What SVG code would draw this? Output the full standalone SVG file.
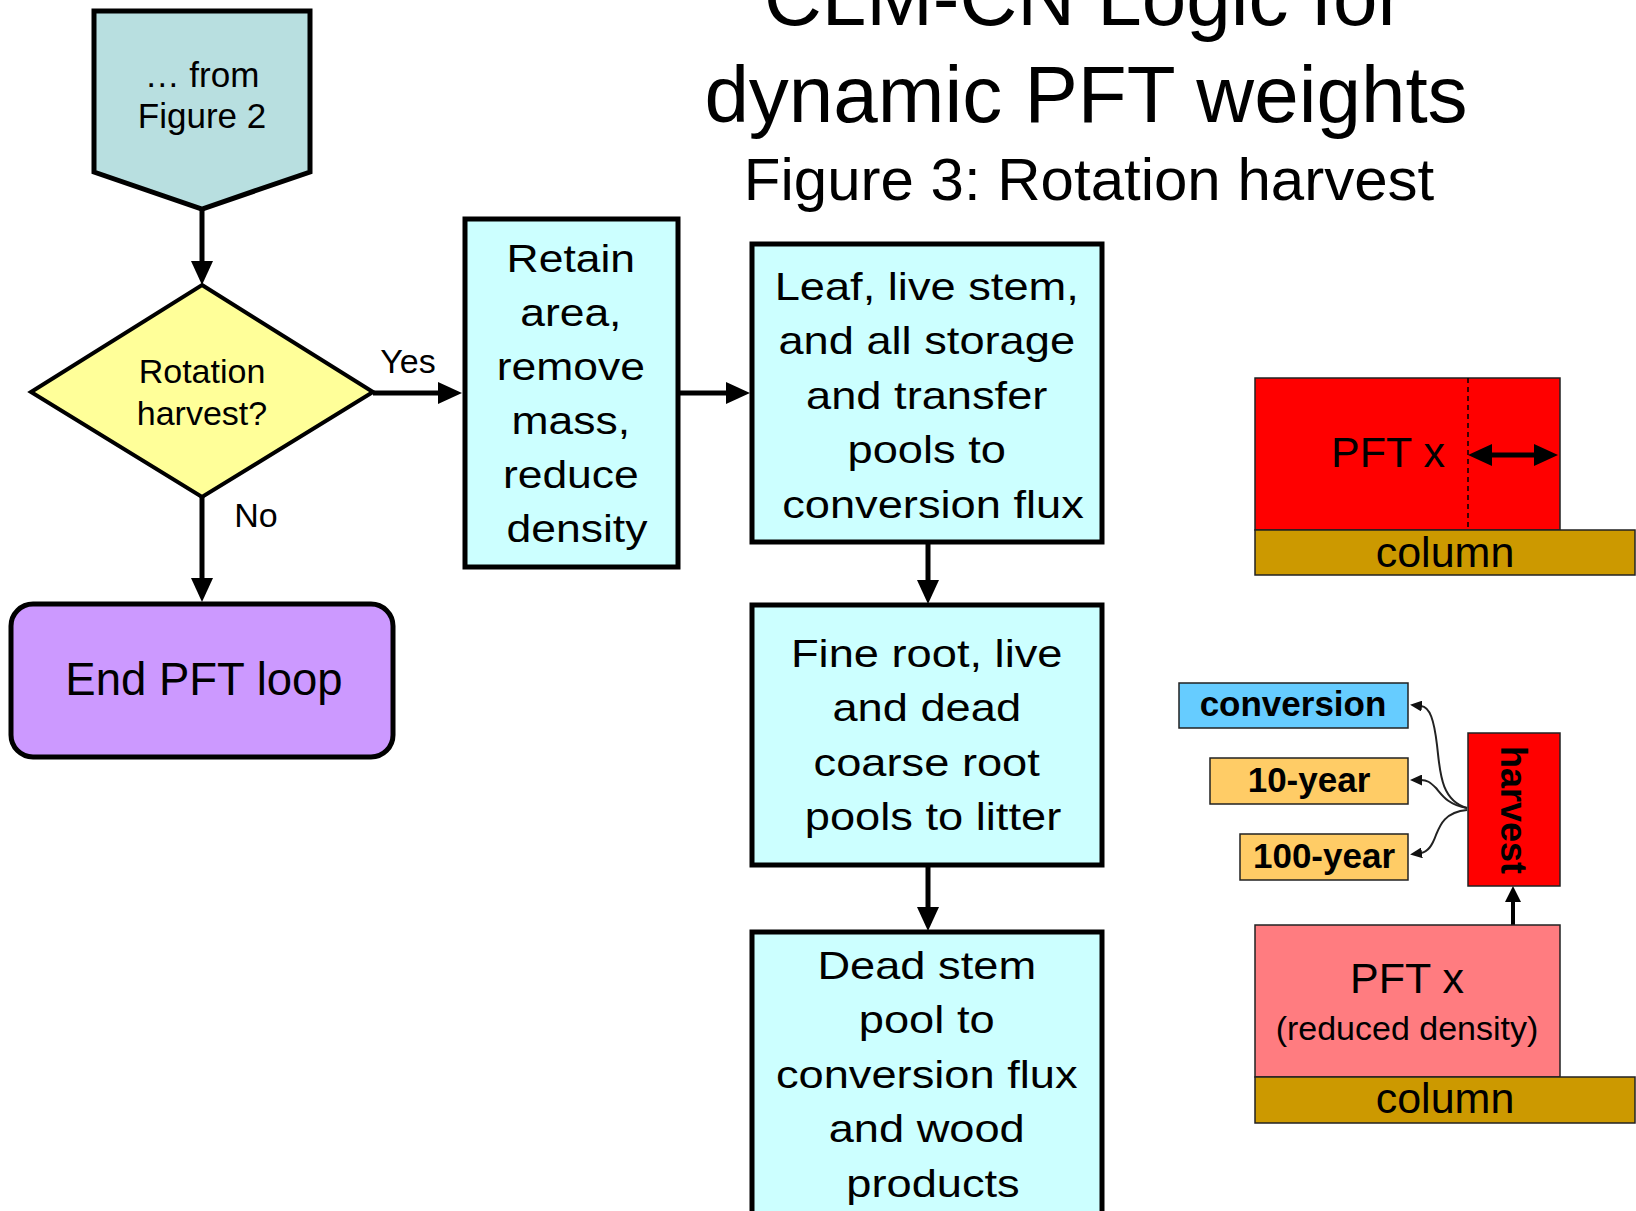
<svg xmlns="http://www.w3.org/2000/svg" width="1636" height="1211" viewBox="0 0 1636 1211">
  <defs>
    <style>
      text { font-family: "Liberation Sans", Arial, sans-serif; fill: #000; }
      .title { font-size: 80px; text-anchor: middle; }
      .sub { font-size: 60px; text-anchor: middle; }
      .proc { fill: #CCFFFF; stroke: #000; stroke-width: 5; }
      .bt { font-size: 39px; text-anchor: middle; }
      .lbl { font-size: 34px; text-anchor: middle; }
      .thin { stroke: #222; stroke-width: 1.5; }
      .pool { font-size: 35px; font-weight: bold; text-anchor: middle; }
      .conn { fill: none; stroke: #000; stroke-width: 5; }
      .curve { fill: none; stroke: #222; stroke-width: 2; }
    </style>
    <marker id="ah" viewBox="0 0 24 22" refX="1" refY="11" markerWidth="24" markerHeight="22" markerUnits="userSpaceOnUse" orient="auto-start-reverse">
      <path d="M0,0 L24,11 L0,22 z" fill="#000"/>
    </marker>
    <marker id="ahs" viewBox="0 0 16 16" refX="1" refY="8" markerWidth="16" markerHeight="16" markerUnits="userSpaceOnUse" orient="auto">
      <path d="M0,0 L16,8 L0,16 z" fill="#000"/>
    </marker>
    <marker id="ahc" viewBox="0 0 12 11" refX="1" refY="5.5" markerWidth="12" markerHeight="11" markerUnits="userSpaceOnUse" orient="auto">
      <path d="M0,0 L12,5.5 L0,11 z" fill="#111"/>
    </marker>
  </defs>

  <rect width="1636" height="1211" fill="#fff"/>

  <!-- heading -->
  <g id="heading">
    <text class="title" x="1084" y="25">CLM-CN Logic for</text>
    <text class="title" x="1086" y="122">dynamic PFT weights</text>
    <text class="sub" x="1089" y="200">Figure 3: Rotation harvest</text>
  </g>

  <!-- connectors -->
  <g id="connectors">
    <path class="conn" d="M202,209 V262" marker-end="url(#ah)"/>
    <path class="conn" d="M202,497 V579" marker-end="url(#ah)"/>
    <path class="conn" d="M373,393 H439" marker-end="url(#ah)"/>
    <path class="conn" d="M679,393 H727" marker-end="url(#ah)"/>
    <path class="conn" d="M928,542 V581" marker-end="url(#ah)"/>
    <path class="conn" d="M928,865 V908" marker-end="url(#ah)"/>
    <text class="lbl" x="408" y="373">Yes</text>
    <text class="lbl" x="256" y="527">No</text>
  </g>

  <!-- flowchart nodes -->
  <g id="from-fig2">
    <polygon points="94,11 310,11 310,172 202,209 94,172" fill="#B8DFE0" stroke="#000" stroke-width="5"/>
    <text class="lbl" x="202" y="87" style="font-size:35px">… from</text>
    <text class="lbl" x="202" y="128" style="font-size:35px">Figure 2</text>
  </g>

  <g id="decision">
    <polygon points="202,285 373,392 202,497 31,392" fill="#FFFF99" stroke="#000" stroke-width="4"/>
    <text class="lbl" x="202" y="383">Rotation</text>
    <text class="lbl" x="202" y="425">harvest?</text>
  </g>

  <g id="end-loop">
    <rect x="11" y="604" width="382" height="153" rx="22" fill="#CC99FF" stroke="#000" stroke-width="5"/>
    <text x="204" y="695" style="font-size:45.5px;text-anchor:middle">End PFT loop</text>
  </g>

  <g id="retain">
    <rect class="proc" x="465" y="219" width="213" height="348"/>
    <text class="bt" transform="matrix(1.14 0 0 1 577 0)">
      <tspan x="0" y="272">Retain</tspan>
      <tspan x="0" y="326">area,</tspan>
      <tspan x="0" y="380">remove</tspan>
      <tspan x="0" y="434">mass,</tspan>
      <tspan x="0" y="488">reduce</tspan>
      <tspan x="0" y="542">density</tspan>
    </text>
  </g>

  <g id="leaf-stem">
    <rect class="proc" x="752" y="244" width="350" height="298"/>
    <text class="bt" transform="matrix(1.16 0 0 1 933 0)">
      <tspan x="0" y="300">Leaf, live stem,</tspan>
      <tspan x="0" y="354.5">and all storage</tspan>
      <tspan x="0" y="409">and transfer</tspan>
      <tspan x="0" y="463.5">pools to</tspan>
      <tspan x="0" y="518">conversion flux</tspan>
    </text>
  </g>

  <g id="roots">
    <rect class="proc" x="752" y="605" width="350" height="260"/>
    <text class="bt" transform="matrix(1.16 0 0 1 933 0)">
      <tspan x="0" y="667">Fine root, live</tspan>
      <tspan x="0" y="721.5">and dead</tspan>
      <tspan x="0" y="776">coarse root</tspan>
      <tspan x="0" y="830.5">pools to litter</tspan>
    </text>
  </g>

  <g id="dead-stem">
    <rect class="proc" x="752" y="932" width="350" height="300"/>
    <text class="bt" transform="matrix(1.16 0 0 1 933 0)">
      <tspan x="0" y="979">Dead stem</tspan>
      <tspan x="0" y="1033.5">pool to</tspan>
      <tspan x="0" y="1088">conversion flux</tspan>
      <tspan x="0" y="1142.5">and wood</tspan>
      <tspan x="0" y="1197">products</tspan>
    </text>
  </g>

  <!-- column sketch: before harvest -->
  <g id="pft-before">
    <rect class="thin" x="1255" y="378" width="305" height="152" fill="#FF0000"/>
    <line x1="1468" y1="378" x2="1468" y2="530" stroke="#000" stroke-width="1.5" stroke-dasharray="5,4"/>
    <path d="M1491,455 H1535" stroke="#000" stroke-width="5" marker-start="url(#ah)" marker-end="url(#ah)"/>
    <text x="1388" y="467" style="font-size:43px;text-anchor:middle">PFT x</text>
  </g>
  <g id="column-before">
    <rect class="thin" x="1255" y="530" width="380" height="45" fill="#CC9900"/>
    <text x="1445" y="567" style="font-size:43px;text-anchor:middle">column</text>
  </g>

  <!-- product pools -->
  <g id="pool-conversion">
    <rect class="thin" x="1179" y="683" width="229" height="45" fill="#66CCFF"/>
    <text class="pool" x="1293" y="716">conversion</text>
  </g>
  <g id="pool-10yr">
    <rect class="thin" x="1210" y="758" width="198" height="46" fill="#FFCC66"/>
    <text class="pool" x="1309" y="792">10-year</text>
  </g>
  <g id="pool-100yr">
    <rect class="thin" x="1240" y="834" width="168" height="46" fill="#FFCC66"/>
    <text class="pool" x="1324" y="868">100-year</text>
  </g>
  <g id="harvest">
    <rect class="thin" x="1468" y="733" width="92" height="153" fill="#FF0000"/>
    <text class="pool" transform="translate(1501,810) rotate(90)" style="font-size:36px">harvest</text>
  </g>

  <!-- harvest flows -->
  <g id="harvest-connectors">
    <path class="curve" d="M1467,808 C1440,800 1440,770 1437,745 C1434,720 1430,707 1421,706" marker-end="url(#ahc)"/>
    <path class="curve" d="M1467,808 C1448,805 1442,795 1436,788 C1430,782 1427,780 1421,780" marker-end="url(#ahc)"/>
    <path class="curve" d="M1467,810 C1445,812 1440,825 1436,835 C1432,846 1428,852 1421,853" marker-end="url(#ahc)"/>
    <path d="M1513,925 V901" stroke="#000" stroke-width="4" marker-end="url(#ahs)"/>
  </g>

  <!-- column sketch: after harvest -->
  <g id="pft-after">
    <rect class="thin" x="1255" y="925" width="305" height="152" fill="#FF7C80"/>
    <text x="1407" y="993" style="font-size:43px;text-anchor:middle">PFT x</text>
    <text x="1407" y="1040" style="font-size:34px;text-anchor:middle">(reduced density)</text>
  </g>
  <g id="column-after">
    <rect class="thin" x="1255" y="1077" width="380" height="46" fill="#CC9900"/>
    <text x="1445" y="1113" style="font-size:43px;text-anchor:middle">column</text>
  </g>
</svg>
